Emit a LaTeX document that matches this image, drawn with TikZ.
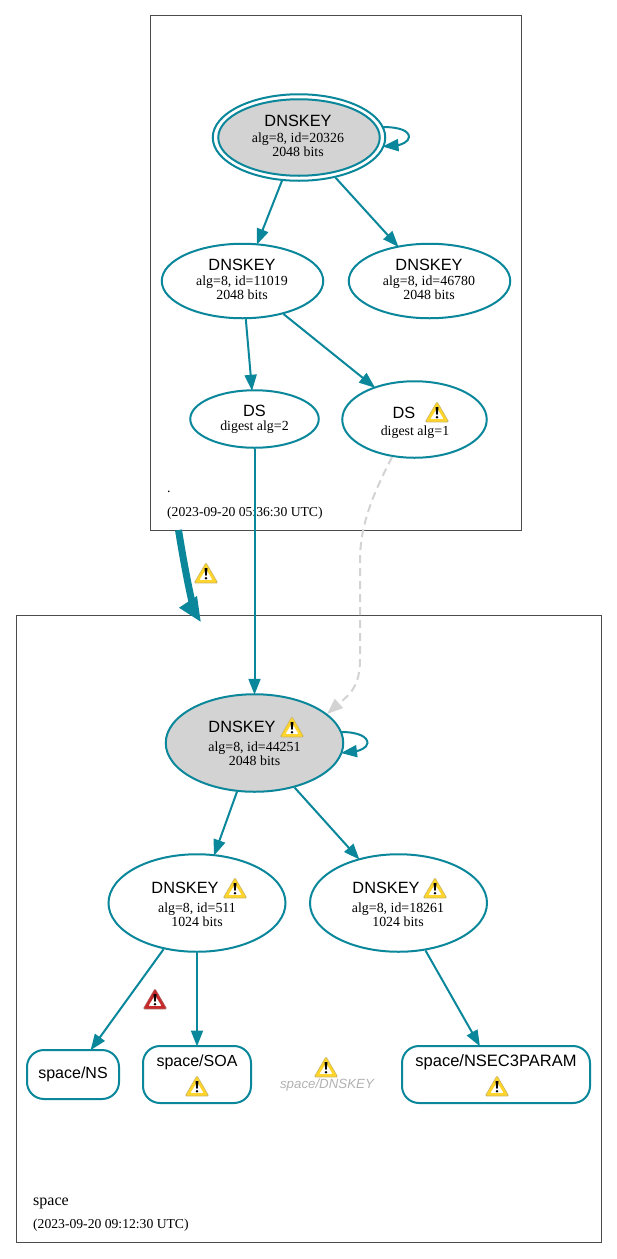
\documentclass[tikz,border=0pt]{standalone}
\usepackage{fontspec}
\setmainfont{Liberation Serif}
\newfontfamily\hv{Liberation Sans}
\usetikzlibrary{arrows.meta,shapes.geometric}
\definecolor{teal}{HTML}{0A879A}
\definecolor{keygray}{HTML}{D3D3D3}
\definecolor{warngold}{HTML}{FFD52B}
\definecolor{warnred}{HTML}{C62A2A}
\newcommand{\ttl}[1]{{\hv\fontsize{16.3}{18}\selectfont #1}}
\newcommand{\sml}[1]{{\fontsize{13.9}{14}\selectfont #1}}
\newcommand{\dat}[1]{{\fontsize{13.65}{14}\selectfont #1}}
\tikzset{
  x=1pt,y=-1pt,
  cluster/.style={draw=black!70,line width=0.8pt,fill=none},
  keyell/.style={ellipse,draw=teal,line width=2pt,inner sep=0pt,fill=white},
  zone/.style={keyell,fill=keygray},
  rr/.style={draw=teal,line width=2pt,rounded corners=17pt,inner sep=0pt,fill=white},
  lbl/.style={inner sep=0pt,align=center},
  lft/.style={inner sep=0pt,anchor=base west},
  edge/.style={draw=teal,line width=2pt,shorten >=-1.5pt,-{Triangle[length=16pt,width=12pt]}},
  grayedge/.style={draw=keygray,line width=2pt,dash pattern=on 8pt off 5pt,-{Triangle[length=16pt,width=12pt,fill=keygray]}},
  pics/warn/.style={code={
    \fill[#1!70!black!70,rounded corners=1.6pt] (0,-11)--(12.4,10.4)--(-12.4,10.4)--cycle;
    \fill[#1,rounded corners=1.2pt] (0,-9.6)--(11,9.5)--(-11,9.5)--cycle;
    \fill[white,rounded corners=0.8pt] (0,-3.6)--(6.4,6.8)--(-6.4,6.8)--cycle;
    \fill[black] (-1.5,-4.8)--(1.5,-4.8)--(0.7,2.6)--(-0.7,2.6)--cycle;
    \fill[black] (0,5.2) circle (1.4);
  }}
}
\begin{document}
\begin{tikzpicture}
\useasboundingbox (0,0) rectangle (617,1259);
\draw[cluster] (150.5,15.5) rectangle (521.5,530);
\draw[cluster] (16,615.5) rectangle (601.5,1242.5);

% root zone keys
\node[keyell,minimum width=172.5pt,minimum height=86.5pt] (rootO) at (299,137.5) {};
\node[zone,minimum width=161.5pt,minimum height=76.5pt] (rootI) at (299,137.5) {};
\node[keyell,minimum width=161.5pt,minimum height=74.5pt] (k11019) at (242.5,281) {};
\node[keyell,minimum width=161.5pt,minimum height=74.5pt] (k46780) at (429.5,281) {};
\node[keyell,minimum width=128.5pt,minimum height=57.5pt] (ds2) at (254.5,419) {};
\node[keyell,minimum width=144.5pt,minimum height=76.5pt] (ds1) at (414.5,419.5) {};

% space zone keys
\node[zone,minimum width=177.5pt,minimum height=97.5pt] (sk) at (254.5,743) {};
\node[keyell,minimum width=177pt,minimum height=97.5pt] (k511) at (197,903) {};
\node[keyell,minimum width=177pt,minimum height=97.5pt] (k18261) at (398.5,903) {};

% records
\node[rr,minimum width=92pt,minimum height=49pt] (ns) at (73,1074.5) {};
\node[rr,minimum width=108pt,minimum height=57pt] (soa) at (197,1074.5) {};
\node[rr,minimum width=188pt,minimum height=57pt] (nsec) at (496,1074.5) {};

% labels
\node[lbl] (t1) at (298,121) {\ttl{DNSKEY}};
\node[lbl] (t1b) at (298,144.5) {\sml{alg=8, id=20326}\\[0.4pt]\sml{2048 bits}};
\node[lbl] (t2) at (242,265) {\ttl{DNSKEY}};
\node[lbl] (t2b) at (242,288) {\sml{alg=8, id=11019}\\[0.4pt]\sml{2048 bits}};
\node[lbl] (t3) at (429,265) {\ttl{DNSKEY}};
\node[lbl] (t3b) at (429,288) {\sml{alg=8, id=46780}\\[0.4pt]\sml{2048 bits}};
\node[lbl] (t4) at (254.5,410.5) {\ttl{DS}};
\node[lbl] (t4b) at (254.5,427) {\sml{digest alg=2}};
\node[lbl] (t5) at (404,412.5) {\ttl{DS}};
\node[lbl] (t5b) at (415,432) {\sml{digest alg=1}};
\node[lbl] (t6) at (242,727) {\ttl{DNSKEY}};
\node[lbl] (t6b) at (254.5,753.5) {\sml{alg=8, id=44251}\\[0.4pt]\sml{2048 bits}};
\node[lbl] (t7) at (185,888) {\ttl{DNSKEY}};
\node[lbl] (t7b) at (197,915) {\sml{alg=8, id=511}\\[0.4pt]\sml{1024 bits}};
\node[lbl] (t8) at (386,888) {\ttl{DNSKEY}};
\node[lbl] (t8b) at (398,915) {\sml{alg=8, id=18261}\\[0.4pt]\sml{1024 bits}};
\node[lbl] (t9) at (73,1074) {{\hv\fontsize{16}{16}\selectfont space/NS}};
\node[lbl] (t10) at (197,1062) {{\hv\fontsize{16}{16}\selectfont space/SOA}};
\node[lbl] (t11) at (496,1062) {{\hv\fontsize{16.5}{16}\selectfont space/NSEC3PARAM}};
\node[lbl,text=black!30] (t12) at (327,1085) {{\hv\itshape\fontsize{13.3}{14}\selectfont space/DNSKEY}};
\node[lft] (z1) at (167,492) {{\fontsize{14}{14}\selectfont .}};
\node[lft] (z1d) at (167,516) {\dat{(2023-09-20 05:36:30 UTC)}};
\node[lft] (z2) at (33,1205) {{\fontsize{16}{16}\selectfont space}};
\node[lft] (z2d) at (33,1228) {\dat{(2023-09-20 09:12:30 UTC)}};

% connectors
\draw[edge] (rootO) -- (k11019);
\draw[edge] (rootO) -- (k46780);
\draw[edge] (k11019) -- (ds2);
\draw[edge] (k11019) -- (ds1);
\draw[edge] (ds2) -- (sk);
\draw[edge] (sk) -- (k511);
\draw[edge] (sk) -- (k18261);
\draw[edge] (k511) -- (ns);
\draw[edge] (k511) -- (soa);
\draw[edge] (k18261) -- (nsec);
\coordinate (la) at (382.5,127);
\coordinate (lb) at (382.5,146.5);
\draw[edge,shorten >=0pt] (la) .. controls (400,127) and (409,131) .. (409,137) .. controls (409,142) and (400,145) .. (lb);
\coordinate (lc) at (341,732);
\coordinate (ld) at (341,753);
\draw[edge,shorten >=0pt] (lc) .. controls (359,732) and (367.5,737) .. (367.5,743) .. controls (367.5,748) and (358,751) .. (ld);
\coordinate (ga) at (392,457);
\coordinate (gb) at (327,714);
\draw[grayedge] (ga) .. controls (378,485) and (360,520) .. (360,560) -- (360,660) .. controls (360,690) and (345,698) .. (gb);
\coordinate (ba) at (178.5,530);
\coordinate (bb) at (192,602);
\coordinate (bc) at (179,607.7);
\coordinate (bd) at (197,596);
\coordinate (be) at (200.7,621.7);
\draw[teal,line width=7pt] (ba) .. controls (182,552) and (187,580) .. (bb);
\fill[teal] (bc) -- (bd) -- (be) -- cycle;

% warnings
\pic at (206,573) {warn=warngold};
\pic at (292,727) {warn=warngold};
\pic at (235,888) {warn=warngold};
\pic at (435,888) {warn=warngold};
\pic at (437,412) {warn=warngold};
\pic at (155,999) {warn=warnred};
\pic at (197,1086) {warn=warngold};
\pic at (326,1067) {warn=warngold};
\pic at (497,1086) {warn=warngold};
\end{tikzpicture}
\end{document}
